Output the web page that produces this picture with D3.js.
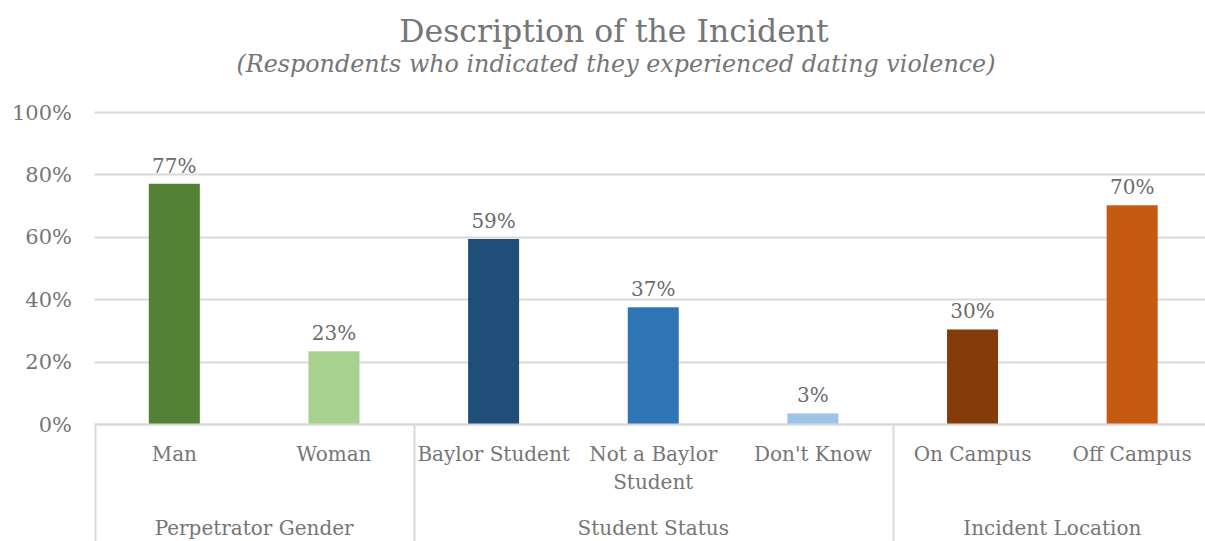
<!DOCTYPE html>
<html><head><meta charset="utf-8">
<script src="https://cdn.jsdelivr.net/npm/d3@7"></script>
<style>body{margin:0;background:#fff;} svg{display:block;}</style>
</head><body>
<svg id="chart" width="1205" height="541"></svg>
<script>
const categories = ["Man","Woman","Baylor Student","Not a Baylor Student","Don't Know","On Campus","Off Campus"];
const categoryLines = [["Man"],["Woman"],["Baylor Student"],["Not a Baylor","Student"],["Don't Know"],["On Campus"],["Off Campus"]];
const values = [77, 23.3, 59.3, 37.4, 3.4, 30.3, 70.1];
const groups = ["Perpetrator Gender","Student Status","Incident Location"];
const groupOf = [0,0,1,1,1,2,2];
const barColors = ["#548235","#A9D18E","#1F4E79","#2E75B6","#9DC3E6","#843C0C","#C55A11"];
const yTicks = [0,20,40,60,80,100];

const FONT = "'DejaVu Serif', serif";
const TXT = "#767676";
const svg = d3.select("#chart");
const x0 = 94.5, x1 = 1212, yTop = 112, yBot = 424;
const x = d3.scaleBand().domain(categories).range([x0, x1]).paddingInner(0).paddingOuter(0);
const y = d3.scaleLinear().domain([0,100]).range([yBot, yTop]);

// title
svg.append("text").attr("x", 614).attr("y", 42).attr("text-anchor","middle")
  .attr("font-family", FONT).attr("font-size", 31.5).attr("fill", "#767676").text("Description of the Incident");
svg.append("text").attr("x", 616).attr("y", 72).attr("text-anchor","middle")
  .attr("font-family", FONT).attr("font-style","italic").attr("font-size", 23.8).attr("fill", "#767676")
  .text("(Respondents who indicated they experienced dating violence)");

// gridlines
svg.append("g").selectAll("line").data(yTicks).join("line")
  .attr("x1", x0).attr("x2", x1).attr("y1", d => Math.round(y(d))+0.5).attr("y2", d => Math.round(y(d))+0.5)
  .attr("stroke", "#d9d9d9").attr("stroke-width", 2);

// y labels
svg.append("g").selectAll("text").data(yTicks).join("text")
  .attr("x", 72).attr("y", d => y(d)+7.5).attr("text-anchor","end")
  .attr("font-family", FONT).attr("font-size", 21).attr("fill", TXT).text(d => d + "%");

// bars
const bw = 51;
svg.append("g").selectAll("rect").data(values).join("rect")
  .attr("x", (d,i) => x(categories[i]) + x.bandwidth()/2 - bw/2)
  .attr("width", bw)
  .attr("y", d => y(d)).attr("height", d => y(0) - y(d))
  .attr("fill", (d,i) => barColors[i]);

// data labels
svg.append("g").selectAll("text").data(values).join("text")
  .attr("x", (d,i) => x(categories[i]) + x.bandwidth()/2)
  .attr("y", d => y(d) - 11).attr("text-anchor","middle")
  .attr("font-family", FONT).attr("font-size", 20).attr("fill", "#6b6b6b")
  .text(d => Math.round(d) + "%");

// axis line
svg.append("line").attr("x1", x0).attr("x2", x1).attr("y1", yBot+0.5).attr("y2", yBot+0.5)
  .attr("stroke", "#d9d9d9").attr("stroke-width", 2);

// category labels
const cl = svg.append("g").selectAll("text").data(categoryLines).join("text")
  .attr("text-anchor","middle").attr("font-family", FONT).attr("font-size", 20).attr("fill", TXT);
cl.each(function(lines, i){
  const t = d3.select(this);
  lines.forEach((ln, j) => t.append("tspan").attr("x", x(categories[i]) + x.bandwidth()/2)
    .attr("y", 461 + j*28).text(ln));
});

// group separators
const bounds = [0];
for (let i = 1; i < categories.length; i++) if (groupOf[i] !== groupOf[i-1]) bounds.push(i);
const sepX = bounds.map(i => x(categories[i])).concat([x1]);
svg.append("g").selectAll("line").data(sepX).join("line")
  .attr("x1", d => Math.round(d)+0.5).attr("x2", d => Math.round(d)+0.5).attr("y1", yBot).attr("y2", 541)
  .attr("stroke", "#d9d9d9").attr("stroke-width", 2);

// group labels
svg.append("g").selectAll("text").data(groups).join("text")
  .attr("x", (g, k) => {
    const idx = categories.filter((c,i) => groupOf[i] === k);
    return (x(idx[0]) + x(idx[idx.length-1]) + x.bandwidth()) / 2;
  })
  .attr("y", 535).attr("text-anchor","middle")
  .attr("font-family", FONT).attr("font-size", 20).attr("fill", TXT).text(d => d);
</script>
</body></html>
